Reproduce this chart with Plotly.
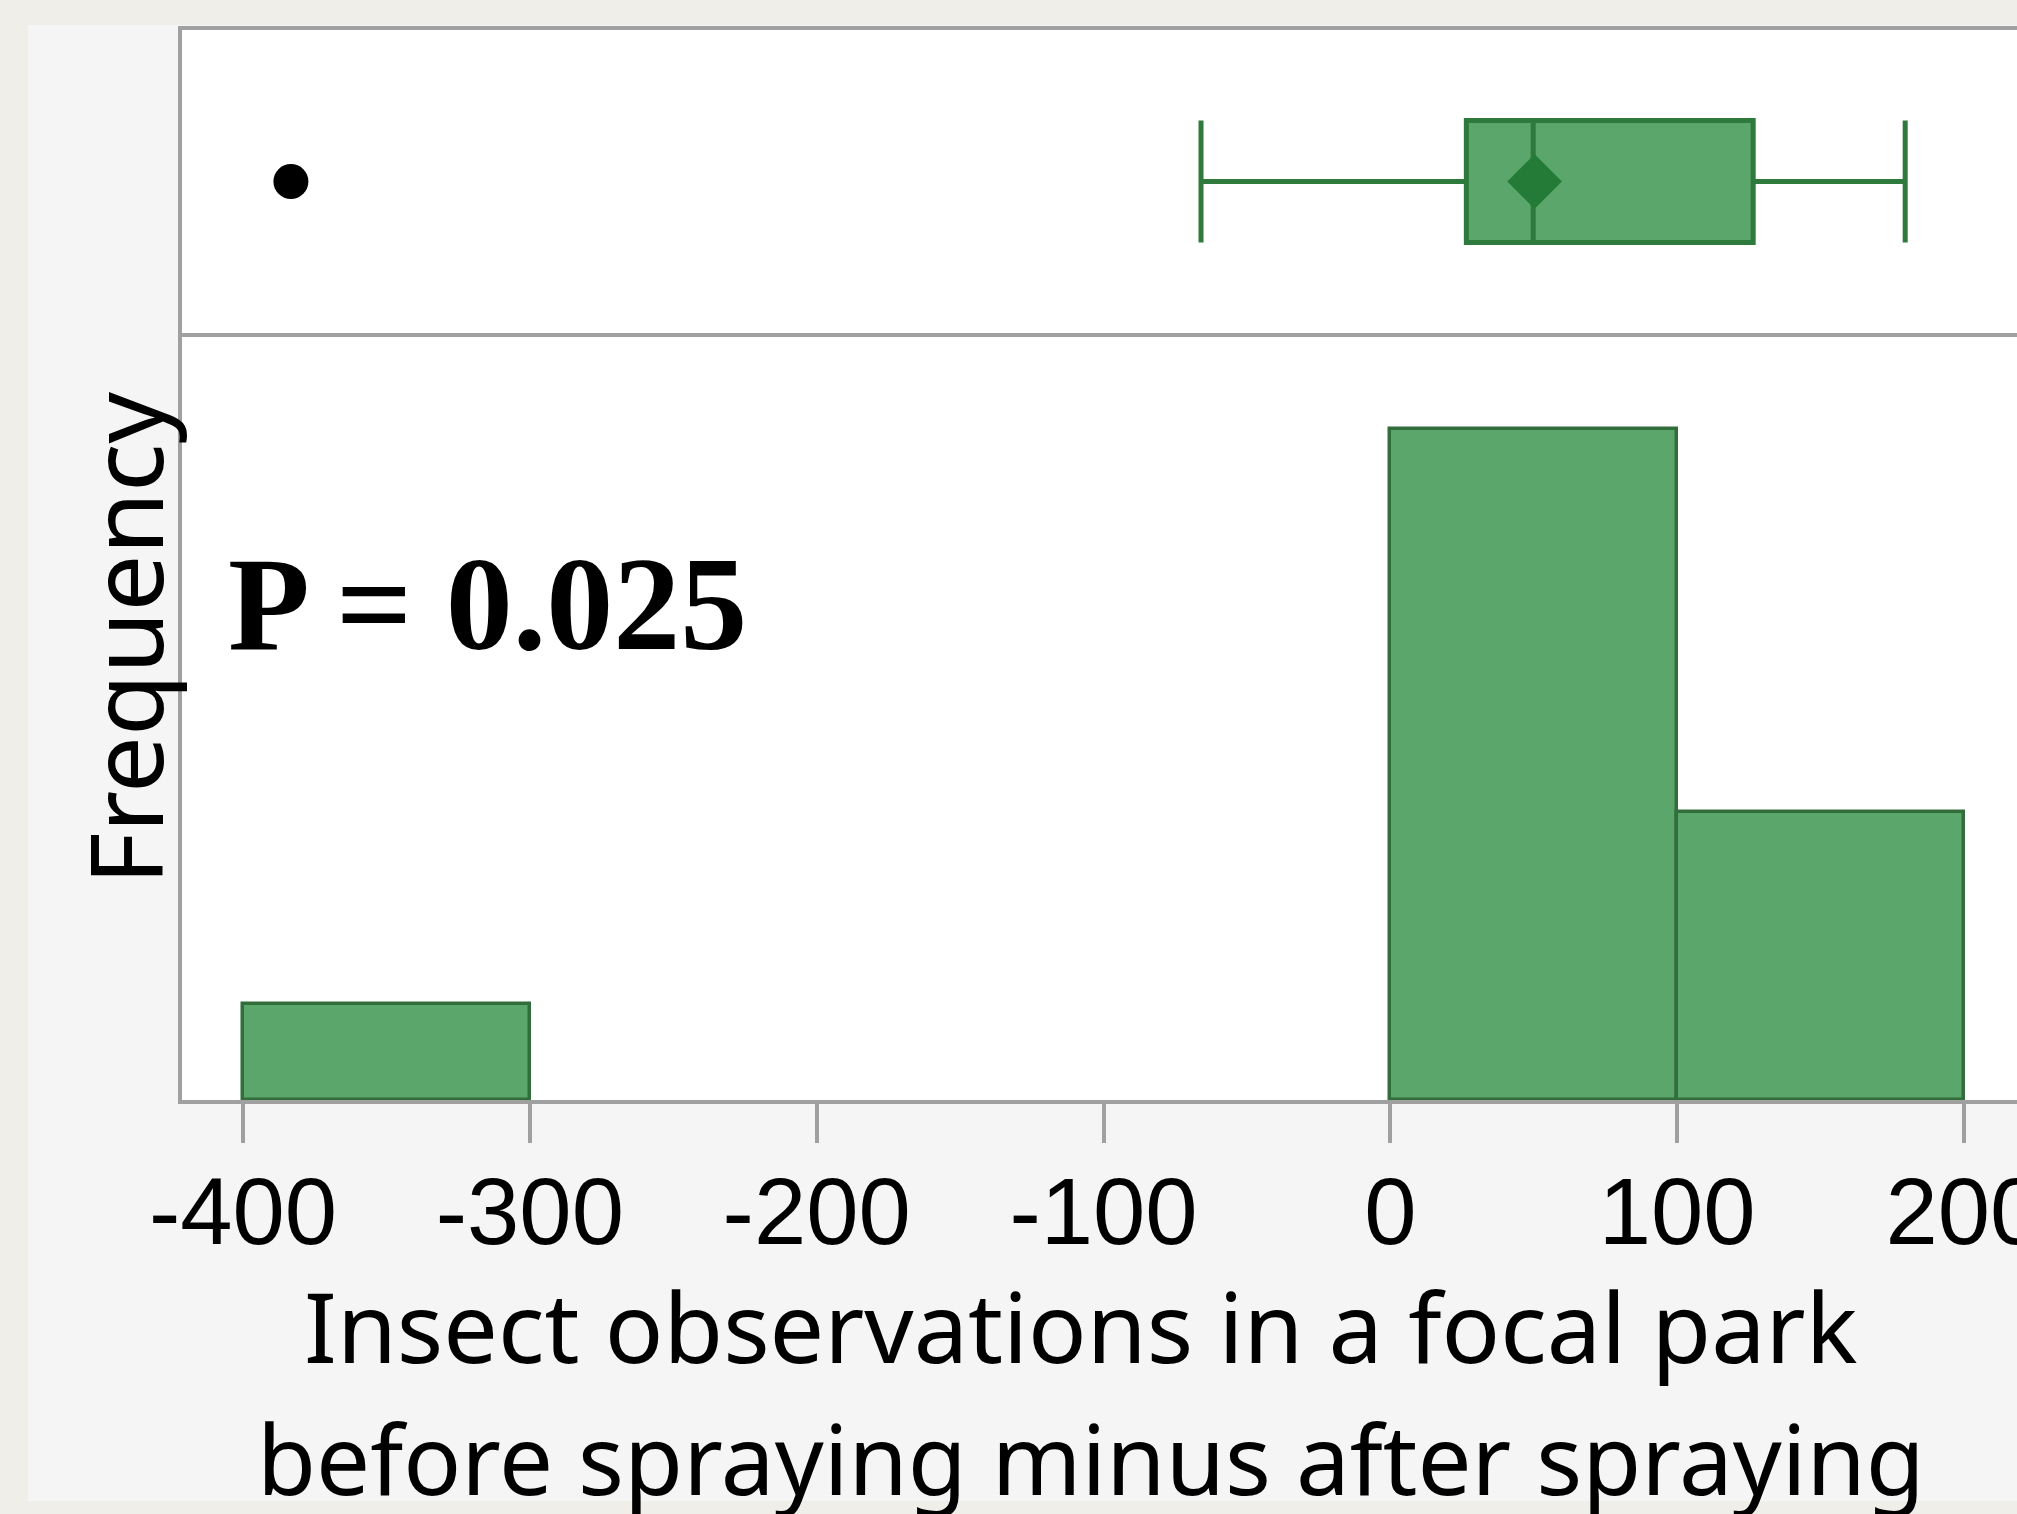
import plotly.graph_objects as go

# ---- data ----
bin_edges = [-400, -300, -200, -100, 0, 100, 200]
counts = [1, 0, 0, 0, 7, 3]

box_lowerfence = [-66.0]
box_q1 = [26.5]
box_median = [49.8]
box_q3 = [126.5]
box_upperfence = [179.5]
box_mean = [50.3]
outliers = [-383.3]

tick_vals = [-400, -300, -200, -100, 0, 100, 200]
tick_text = ["-400", "-300", "-200", "-100", "0", "100", "200"]

x_title_1 = "Insect observations in a focal park"
x_title_2 = "before spraying minus after spraying"
y_title = "Frequency"
p_text = "P = 0.025"

# ---- styling ----
W, H = 2017, 1514
L, R, T, B = 182, 0, 30, 414
plot_h = H - T - B
split_px = 333
split = (H - B - split_px) / plot_h

BAR_FILL = "#5ba66a"
BAR_LINE = "#326d3c"
BOX_LINE = "#2e7a3d"
MEAN_COL = "#247a37"
FRAME = "#a0a0a0"
PX_PER_UNIT = 2.868

def px_to_paper_x(px):
    return (px - L) / (W - L - R)

def px_to_paper_y(py):
    return (H - B - py) / plot_h

fig = go.Figure()

# histogram bars (non-empty bins)
centers, heights, widths = [], [], []
for i, c in enumerate(counts):
    if c > 0:
        centers.append((bin_edges[i] + bin_edges[i + 1]) / 2)
        widths.append(bin_edges[i + 1] - bin_edges[i])
        heights.append(c)
fig.add_trace(go.Bar(
    x=centers, y=heights, width=widths,
    marker=dict(color=BAR_FILL, line=dict(color=BAR_LINE, width=3.5)),
    xaxis="x2", yaxis="y2", showlegend=False, hoverinfo="skip",
))

# box plot
fig.add_trace(go.Box(
    y=[0], q1=box_q1, median=box_median, q3=box_q3,
    lowerfence=box_lowerfence, upperfence=box_upperfence,
    orientation="h", width=0.805, whiskerwidth=1,
    fillcolor=BAR_FILL, line=dict(color=BOX_LINE, width=5),
    xaxis="x", yaxis="y", showlegend=False, hoverinfo="skip",
))
fig.add_trace(go.Scatter(
    x=box_mean, y=[0], mode="markers",
    marker=dict(symbol="diamond", size=42, color=MEAN_COL, line=dict(width=0)),
    xaxis="x", yaxis="y", showlegend=False, hoverinfo="skip",
))
fig.add_trace(go.Scatter(
    x=outliers, y=[0] * len(outliers), mode="markers",
    marker=dict(symbol="circle", size=35, color="black", line=dict(width=0)),
    xaxis="x", yaxis="y", showlegend=False, hoverinfo="skip",
))

x_range = [-400 - 61 / PX_PER_UNIT, 200 + 53 / PX_PER_UNIT]

fig.update_layout(
    template="none",
    width=W, height=H, autosize=False,
    margin=dict(l=L, r=R, t=T, b=B, pad=0),
    paper_bgcolor="#f5f5f5", plot_bgcolor="white",
    bargap=0,
    xaxis=dict(domain=[0, 1], range=x_range, anchor="y", automargin=False,
               showline=True, mirror=True, linecolor=FRAME, linewidth=3.5,
               showgrid=False, zeroline=False, showticklabels=False, ticks=""),
    yaxis=dict(domain=[split, 1], range=[-1, 1], anchor="x", automargin=False,
               showline=True, linecolor=FRAME, linewidth=3.5,
               showgrid=False, zeroline=False, showticklabels=False, ticks=""),
    xaxis2=dict(domain=[0, 1], range=x_range, anchor="y2", matches="x",
                automargin=False,
                showline=True, linecolor=FRAME, linewidth=3.5,
                showgrid=False, zeroline=False,
                tickmode="array", tickvals=tick_vals, ticktext=tick_text,
                ticks="outside", ticklen=39, tickwidth=3.5, tickcolor=FRAME,
                ticklabeloverflow="allow", ticklabelstandoff=-12,
                tickfont=dict(family="Liberation Sans", size=94, color="black")),
    yaxis2=dict(domain=[0, split], range=[0, 8], anchor="x2", automargin=False,
                showline=True, linecolor=FRAME, linewidth=3.5,
                showgrid=False, zeroline=False, showticklabels=False, ticks=""),
    shapes=[
        dict(type="rect", xref="paper", yref="paper",
             x0=px_to_paper_x(0), x1=px_to_paper_x(28),
             y0=px_to_paper_y(H), y1=px_to_paper_y(0),
             fillcolor="#efeee9", line=dict(width=0), layer="below"),
        dict(type="rect", xref="paper", yref="paper",
             x0=px_to_paper_x(0), x1=1,
             y0=px_to_paper_y(25), y1=px_to_paper_y(0),
             fillcolor="#efeee9", line=dict(width=0), layer="below"),
        dict(type="rect", xref="paper", yref="paper",
             x0=px_to_paper_x(0), x1=1,
             y0=px_to_paper_y(H), y1=px_to_paper_y(1501),
             fillcolor="#efeee9", line=dict(width=0), layer="below"),
    ],
    annotations=[
        dict(text=x_title_1, xref="paper", yref="paper",
             x=px_to_paper_x(1080), y=px_to_paper_y(1325),
             xanchor="center", yanchor="middle", showarrow=False,
             font=dict(family="Noto Sans", size=97, color="black")),
        dict(text=x_title_2, xref="paper", yref="paper",
             x=px_to_paper_x(1091), y=px_to_paper_y(1457),
             xanchor="center", yanchor="middle", showarrow=False,
             font=dict(family="Noto Sans", size=96, color="black")),
        dict(text=y_title, xref="paper", yref="paper",
             x=px_to_paper_x(124), y=px_to_paper_y(639), textangle=-90,
             xanchor="center", yanchor="middle", showarrow=False,
             font=dict(family="Noto Sans", size=101, color="black")),
        dict(text="<b>" + p_text + "</b>", xref="paper", yref="paper",
             x=px_to_paper_x(487), y=px_to_paper_y(604),
             xanchor="center", yanchor="middle", showarrow=False,
             font=dict(family="Liberation Serif", size=134, color="black")),
    ],
)

fig.write_html(
    "out.html",
    config={"displayModeBar": False, "responsive": False},
    post_script="document.body.style.margin='0';document.body.style.overflow='hidden';",
)
